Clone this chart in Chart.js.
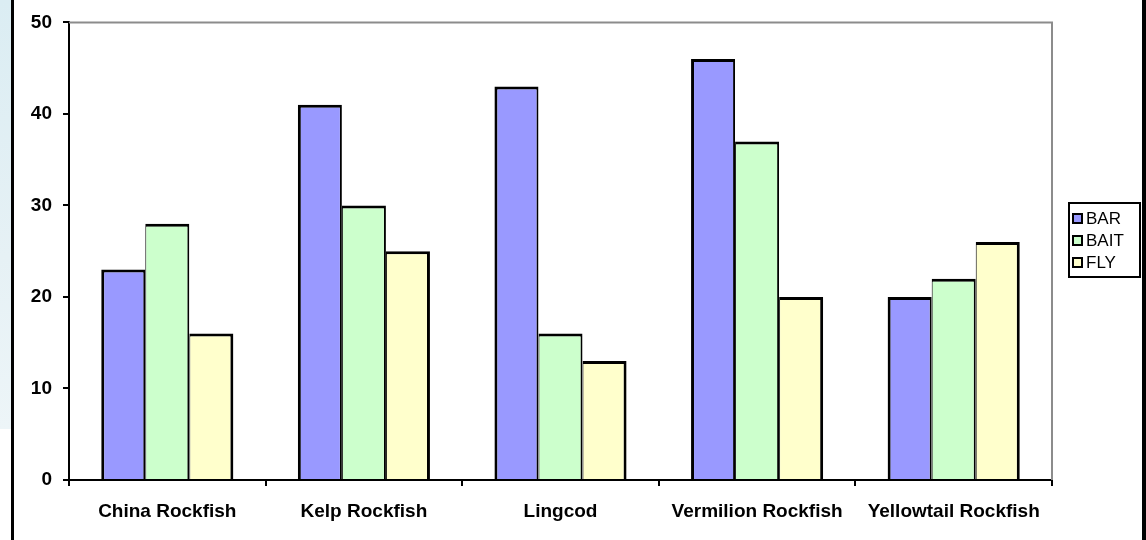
<!DOCTYPE html>
<html>
<head>
<meta charset="utf-8">
<title>Catch by method</title>
<script src="https://cdn.jsdelivr.net/npm/chart.js@4.4.1/dist/chart.umd.min.js"></script>
<style>
  html, body { margin: 0; padding: 0; background: #ffffff; }
  #wrap { position: relative; width: 1146px; height: 540px; overflow: hidden; background: #ffffff; }
  #sidePanel { position: absolute; left: 0; top: 0; width: 11px; height: 429px;
               background: linear-gradient(180deg, #dbedf3 0%, #e6f1f5 60%, #edf5f8 100%); }
  #frameLeft { position: absolute; left: 11px; top: 0; width: 3px; height: 540px; background: #000; }
  #frameRight { position: absolute; left: 1142px; top: 0; width: 4px; height: 540px; background: #000; }
  canvas { position: absolute; left: 0; top: 0; }
</style>
</head>
<body>
<div id="wrap">
  <div id="sidePanel"></div>
  <canvas id="chart" width="1146" height="540"></canvas>
  <div id="frameLeft"></div>
  <div id="frameRight"></div>
</div>
<script>
// Species on the x axis
const species = ['China Rockfish', 'Kelp Rockfish', 'Lingcod', 'Vermilion Rockfish', 'Yellowtail Rockfish'];

// Counts per fishing method
const barValues  = [23, 41, 43, 46, 20];
const baitValues = [28, 30, 16, 37, 22];
const flyValues  = [16, 25, 13, 20, 26];

// Value axis ticks
const yTicks = [0, 10, 20, 30, 40, 50];

const FONT = '"Liberation Sans", Arial, Helvetica, sans-serif';

// Grey frame along the top and right of the plot area
const plotFrame = {
  id: 'plotFrame',
  beforeDatasetsDraw(chart) {
    const { ctx, chartArea: a } = chart;
    ctx.save();
    ctx.strokeStyle = '#8c8c8c';
    ctx.lineWidth = 2;
    ctx.beginPath();
    ctx.moveTo(a.left, a.top);
    ctx.lineTo(a.right, a.top);
    ctx.lineTo(a.right, a.bottom);
    ctx.stroke();
    ctx.restore();
  }
};

// Boxed legend to the right of the plot
const boxLegend = {
  id: 'boxLegend',
  afterDraw(chart) {
    const { ctx } = chart;
    const x0 = 1069, y0 = 203, w = 71, rowH = 22, pad = 4;
    const sets = chart.data.datasets;
    const h = pad * 2 + rowH * sets.length;
    ctx.save();
    ctx.fillStyle = '#ffffff';
    ctx.fillRect(x0, y0, w, h);
    ctx.strokeStyle = '#000';
    ctx.lineWidth = 2;
    ctx.strokeRect(x0, y0, w, h);
    ctx.font = '17px ' + FONT;
    ctx.textBaseline = 'middle';
    sets.forEach((ds, i) => {
      const cy = y0 + pad + rowH * i + rowH / 2;
      ctx.fillStyle = ds.backgroundColor;
      ctx.fillRect(x0 + 4, cy - 4, 9, 9);
      ctx.lineWidth = 2;
      ctx.strokeStyle = '#000';
      ctx.strokeRect(x0 + 4, cy - 4, 9, 9);
      ctx.fillStyle = '#000';
      ctx.fillText(ds.label, x0 + 17, cy + 1);
    });
    ctx.restore();
  }
};

const tickGrid = {
  drawOnChartArea: false,
  drawTicks: true,
  tickLength: 6,
  color: '#000',
  lineWidth: 2
};

new Chart(document.getElementById('chart'), {
  type: 'bar',
  data: {
    labels: species,
    datasets: [
      { label: 'BAR',  data: barValues,  backgroundColor: '#9999ff', borderColor: '#000',
        borderWidth: { top: 3, left: 3, right: 2, bottom: 0 }, borderSkipped: false },
      { label: 'BAIT', data: baitValues, backgroundColor: '#ccffcc', borderColor: '#000',
        borderWidth: { top: 3, left: 1, right: 2, bottom: 0 }, borderSkipped: false },
      { label: 'FLY',  data: flyValues,  backgroundColor: '#ffffcc', borderColor: '#000',
        borderWidth: { top: 3, left: 1, right: 3, bottom: 0 }, borderSkipped: false }
    ]
  },
  options: {
    responsive: false,
    animation: false,
    devicePixelRatio: 1,
    layout: { padding: { left: 0, right: 94, top: 19, bottom: 0 } },
    datasets: { bar: { barPercentage: 1, categoryPercentage: 0.672 } },
    plugins: {
      legend: { display: false },
      tooltip: { enabled: false }
    },
    scales: {
      x: {
        grid: { ...tickGrid, offset: true },
        border: { display: true, color: '#000', width: 2 },
        ticks: {
          color: '#000',
          padding: 14,
          maxRotation: 0,
          autoSkip: false,
          font: { family: FONT, size: 19, weight: 'bold' }
        },
        afterFit(scale) { scale.height = 60; }
      },
      y: {
        min: yTicks[0],
        max: yTicks[yTicks.length - 1],
        grid: tickGrid,
        border: { display: true, color: '#000', width: 2 },
        afterBuildTicks(scale) { scale.ticks = yTicks.map(v => ({ value: v })); },
        ticks: {
          color: '#000',
          padding: 11,
          font: { family: FONT, size: 19, weight: 'bold' }
        },
        afterFit(scale) { scale.width = 69; }
      }
    }
  },
  plugins: [plotFrame, boxLegend]
});
</script>
</body>
</html>
